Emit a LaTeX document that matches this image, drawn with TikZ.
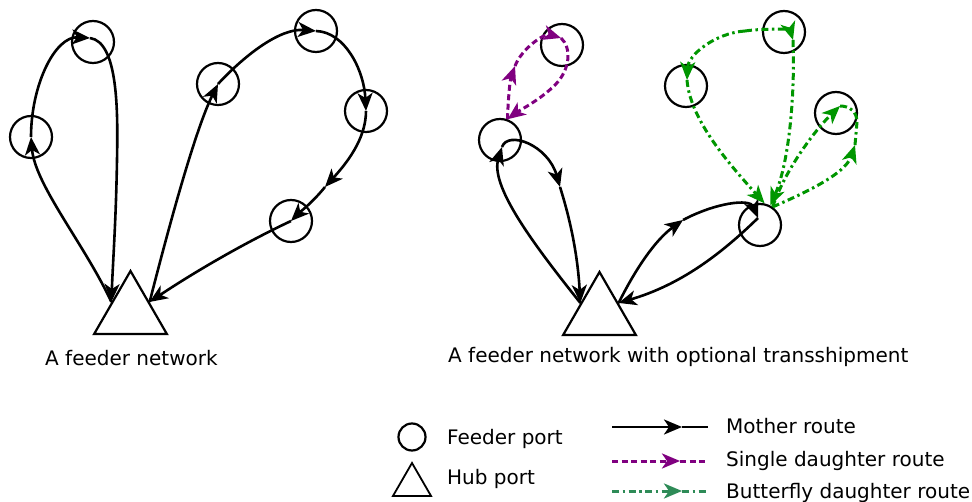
\documentclass[tikz,border=0pt]{standalone}
\usepackage{fontspec}
\setmainfont{DejaVu Sans}
\usetikzlibrary{shapes.geometric,arrows.meta}
\definecolor{dpurple}{RGB}{128,0,128}
\definecolor{dgreen}{RGB}{0,150,0}
\definecolor{lgreen}{RGB}{46,139,87}

\begin{document}
\begin{tikzpicture}[x=1pt,y=-1pt]
\tikzstyle{feeder}=[circle,draw,line width=2.2pt,minimum size=42pt,inner sep=0pt]
\tikzstyle{hub}=[regular polygon,regular polygon sides=3,draw,line width=2.2pt,minimum size=84pt,inner sep=0pt]
\tikzstyle{tip}=[-{Stealth[length=18pt,width=15pt,inset=5pt]}]
\tikzstyle{mother}=[line width=2.6pt]
\tikzstyle{single}=[line width=3pt,color=dpurple,dash pattern=on 6pt off 3.5pt]
\tikzstyle{bfly}=[line width=3pt,color=dgreen,dash pattern=on 7pt off 3.5pt on 2.5pt off 3.5pt]
\tikzstyle{label}=[anchor=base west,inner sep=0pt,font=\fontsize{20}{24}\selectfont]
\useasboundingbox (0,0) rectangle (972,502);

% a feeder network
\node[hub] (hubL) at (130.5,313) {};
\node[feeder] (A1) at (31,137) {};
\node[feeder] (A2) at (93,42) {};
\node[feeder] (B1) at (218,84) {};
\node[feeder] (B2) at (316,31) {};
\node[feeder] (B3) at (366,111) {};
\node[feeder] (B4) at (291,221) {};
\coordinate (bm) at (325,187);

\draw[mother,tip] (hubL.150) .. controls (85,245) and (35,185) .. (A1.center);
\draw[mother,tip] (A1.center) .. controls (31,85) and (55,36) .. (90,38);
\draw[mother,tip] (90,38) .. controls (118,42) and (118,110) .. (117,160)
  .. controls (116,220) and (113,260) .. (hubL.150);
\draw[mother,tip] (hubL.30) .. controls (168,230) and (195,130) .. (B1.center);
\draw[mother,tip] (B1.center) .. controls (245,55) and (280,28) .. (B2.center);
\draw[mother,tip] (B2.center) .. controls (345,32) and (364,70) .. (B3.center);
\draw[mother,tip] (B3.center) .. controls (366,140) and (345,165) .. (bm);
\draw[mother,tip] (bm) .. controls (312,203) and (300,212) .. (B4.center);
\draw[mother,tip] (B4.center) .. controls (240,245) and (190,275) .. (hubL.30);

\node[label] (capL) at (45,366) {A feeder network};

% with optional transshipment
\node[hub] (hubR) at (599.5,314) {};
\node[feeder] (C1) at (500,140) {};
\node[feeder] (C2) at (562,45) {};
\node[feeder] (D1) at (760,225) {};
\node[feeder] (E1) at (686,86) {};
\node[feeder] (E2) at (784,32) {};
\node[feeder] (E3) at (836,113) {};
\coordinate (cin) at (502,147);
\coordinate (cm) at (560,187);
\coordinate (dm) at (683,220);
\coordinate (din) at (758,218);
\coordinate (pm) at (515,66);
\coordinate (pc) at (561,38);
\coordinate (tp) at (745,31);
\coordinate (e2in) at (793,40);
\coordinate (e1in) at (687,80);
\coordinate (e3in) at (840,106);
\coordinate (e3m) at (855,145);
\coordinate (e3r) at (857,122);

\draw[mother,tip] (hubR.150) .. controls (530,240) and (490,185) .. (cin);
\draw[mother,tip] (cin) .. controls (508,130) and (548,145) .. (cm);
\draw[mother,tip] (cm) .. controls (572,225) and (578,260) .. (hubR.150);
\draw[mother,tip] (hubR.30) .. controls (635,270) and (655,240) .. (dm);
\draw[mother,tip] (dm) .. controls (715,203) and (750,198) .. (din);
\draw[mother,tip] (din) .. controls (720,255) and (680,285) .. (hubR.30);

\draw[single,tip] (C1.70) .. controls (508,100) and (510,80) .. (pm);
\draw[single,tip] (pm) .. controls (522,48) and (545,33) .. (pc);
\draw[single,tip] (pc) .. controls (572,48) and (570,70) .. (555,85)
  .. controls (540,100) and (520,110) .. (C1.70);

\draw[bfly,tip] (tp) .. controls (765,28) and (790,30) .. (e2in);
\draw[bfly,tip] (e2in) .. controls (795,90) and (790,160) .. (D1.62);
\draw[bfly,tip] (tp) .. controls (715,33) and (688,55) .. (e1in);
\draw[bfly,tip] (e1in) .. controls (690,120) and (730,165) .. (D1.78);
\draw[bfly,tip] (D1.55) .. controls (785,170) and (815,130) .. (e3in);
\draw[bfly] (e3in) .. controls (850,106) and (857,112) .. (e3r);
\draw[bfly,tip] (D1.55) .. controls (800,195) and (845,175) .. (e3m);
\draw[bfly] (e3m) -- (e3r);

\node[label] (capR) at (448,363) {A feeder network with optional transshipment};

% legend
\node[feeder,minimum size=27pt] (lfeed) at (412,437) {};
\node[hub,minimum size=44pt,line width=1.8pt] (lhub) at (412,485) {};
\node[label] (tfeed) at (447,444) {Feeder port};
\node[label] (thub) at (447,484) {Hub port};

\coordinate (m1) at (612,427);
\coordinate (m2) at (682,427);
\coordinate (m3) at (708,427);
\coordinate (s1) at (612,461);
\coordinate (s2) at (680,461);
\coordinate (s3) at (708,461);
\coordinate (f1) at (612,491);
\coordinate (f2) at (682,491);
\coordinate (f3) at (708,491);
\draw[mother,tip] (m1) -- (m2);
\draw[mother] (m2) -- (m3);
\draw[single,tip] (s1) -- (s2);
\draw[single] (s2) -- (s3);
\draw[bfly,color=lgreen,tip] (f1) -- (f2);
\draw[bfly,color=lgreen] (f2) -- (f3);
\node[label] (tm) at (726,434) {Mother route};
\node[label] (ts) at (726,466) {Single daughter route};
\node[label] (tb) at (726,498) {Butterfly daughter route};
\end{tikzpicture}
\end{document}
